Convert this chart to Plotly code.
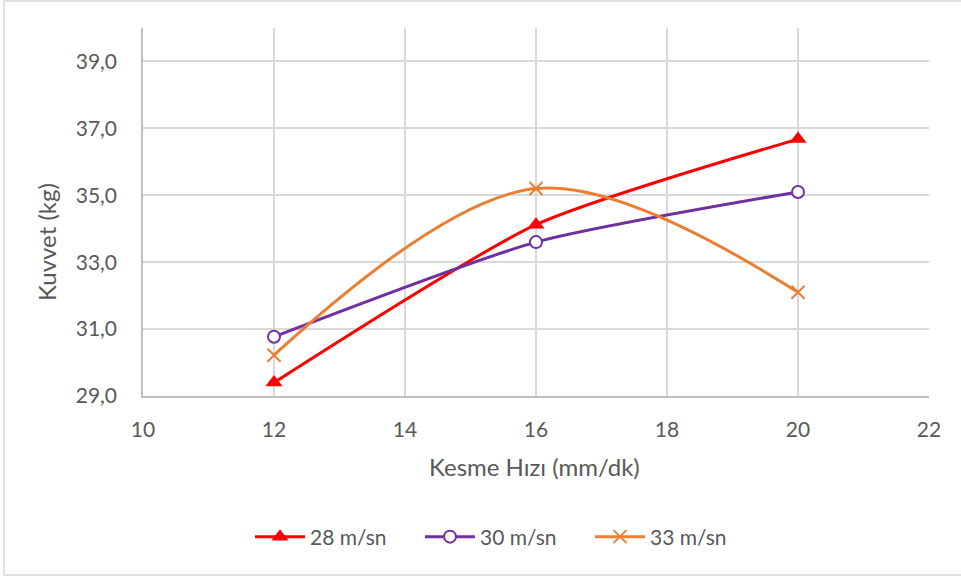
import plotly.graph_objects as go

x_vals = [12, 16, 20]
s28 = [29.4, 34.12, 36.68]
s30 = [30.77, 33.6, 35.1]
s33 = [30.22, 35.2, 32.1]
names = ["28 m/sn", "30 m/sn", "33 m/sn"]
colors = ["#FF0000", "#7030A0", "#ED7D31"]

W, H = 961, 579
L, R, T, B = 143, 32, 28, 183
pw, ph = W - L - R, H - T - B

def px(xp):
    return (xp - L) / pw

def py(yp):
    return (H - B - yp) / ph

FONT = "Lato"
TXT = "#595959"

fig = go.Figure()
fig.add_trace(go.Scatter(
    x=x_vals, y=s28, name=names[0], mode="lines+markers",
    line=dict(color=colors[0], width=3, shape="spline", smoothing=0.6),
    marker=dict(symbol="triangle-up", size=15, color=colors[0]),
))
fig.add_trace(go.Scatter(
    x=x_vals, y=s30, name=names[1], mode="lines+markers",
    line=dict(color=colors[1], width=3, shape="spline", smoothing=0.6),
    marker=dict(symbol="circle", size=12, color="white",
                line=dict(color=colors[1], width=2)),
))
fig.add_trace(go.Scatter(
    x=x_vals, y=s33, name=names[2], mode="lines+markers",
    line=dict(color=colors[2], width=3, shape="spline", smoothing=1.0),
    marker=dict(symbol="x-thin-open", size=13,
                line=dict(color=colors[2], width=2)),
))

fig.update_layout(
    width=W, height=H,
    margin=dict(l=L, r=R, t=T, b=B),
    paper_bgcolor="white", plot_bgcolor="white",
    separators=",.",
    font=dict(family=FONT, size=20, color=TXT),
    showlegend=True,
    legend=dict(orientation="h", x=px(505), xanchor="center",
                y=py(537), yanchor="middle",
                font=dict(family=FONT, size=21, color=TXT),
                itemwidth=50, entrywidth=105),
    xaxis=dict(range=[10, 22], tick0=10, dtick=2, showgrid=True,
               gridcolor="#d9d9d9", gridwidth=1.5, showline=True,
               linecolor="#bfbfbf", linewidth=1.5, zeroline=False,
               ticks="", ticklabelstandoff=14,
               tickfont=dict(family=FONT, size=21, color=TXT)),
    yaxis=dict(range=[29, 40], tick0=29, dtick=2, tickformat=".1f",
               showgrid=True, gridcolor="#d9d9d9", gridwidth=1.5,
               showline=True, linecolor="#bfbfbf", linewidth=1.5,
               zeroline=False, ticks="", ticklabelstandoff=20,
               tickfont=dict(family=FONT, size=21, color=TXT)),
    annotations=[
        dict(text="Kuvvet (kg)", xref="paper", yref="paper",
             x=px(46), y=py(242), xanchor="center", yanchor="middle",
             textangle=-90, showarrow=False,
             font=dict(family=FONT, size=24, color=TXT)),
        dict(text="Kesme Hızı (mm/dk)", xref="paper", yref="paper",
             x=px(534), y=py(467), xanchor="center", yanchor="middle",
             showarrow=False, font=dict(family=FONT, size=24, color=TXT)),
    ],
    shapes=[dict(type="rect", xref="paper", yref="paper",
                 x0=px(4), x1=px(962), y0=py(575), y1=py(1),
                 line=dict(color="#d9d9d9", width=1.5), layer="below")],
)

fig.write_html("out.html")
